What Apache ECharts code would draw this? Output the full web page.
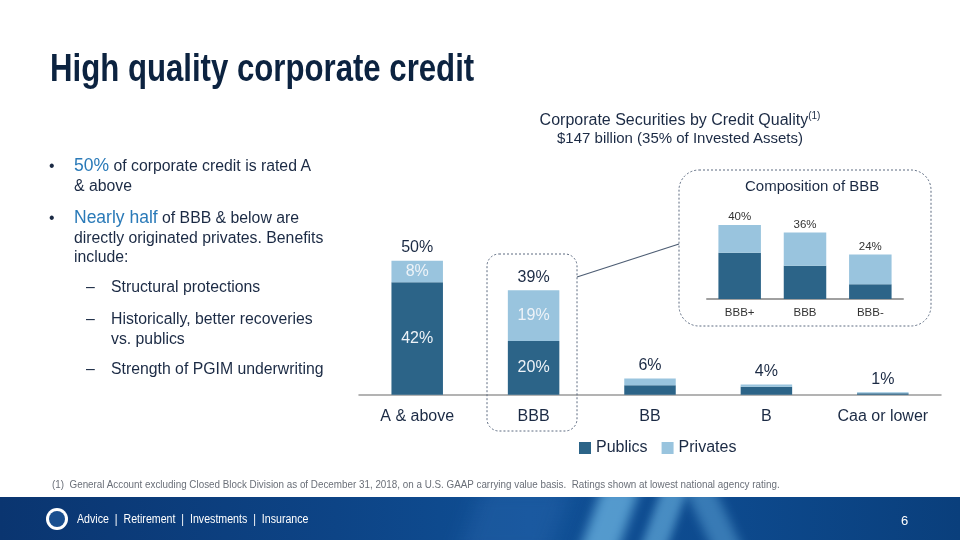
<!DOCTYPE html>
<html>
<head>
<meta charset="utf-8">
<script src="https://cdn.jsdelivr.net/npm/echarts@6/dist/echarts.min.js"></script>
<style>
  html, body { margin:0; padding:0; background:#fff; }
  #wrap { position:relative; width:960px; height:540px; overflow:hidden; font-family:"Liberation Sans", Arial, sans-serif; color:#1b2a44; }
  #chart { position:absolute; left:0; top:0; width:960px; height:540px; z-index:1; }
  .abs { position:absolute; z-index:2; white-space:nowrap; }
  .title { left:50px; top:49px; font-family:"Liberation Sans", sans-serif; font-weight:bold; font-size:38px; line-height:38px; color:#0c2340; transform:scaleX(0.82); transform-origin:0 0; }
  .bul { font-size:15.8px; line-height:19.5px; color:#1b2a44; }
  .hl { color:#2a7ab8; font-size:17.5px; }
  .head { left:480px; width:400px; text-align:center; font-size:16px; line-height:18px; color:#1b2a44; }
  .foot { left:52px; top:478px; font-family:"Liberation Sans", sans-serif; font-size:11px; color:#6a6f78; transform:scaleX(0.895); transform-origin:0 0; }
  #band { position:absolute; left:0; top:497px; width:960px; height:43px; z-index:0; overflow:hidden;
          background:linear-gradient(90deg,#0a3570 0%,#0d4486 35%,#0f4f95 55%,#0d4a8e 75%,#0a3f7c 100%); }
  .streak { position:absolute; top:-10px; height:70px; transform:skewX(-20deg); }
</style>
</head>
<body>
<div id="wrap">
  <div id="band">
    <div class="streak" style="left:590px;width:38px;background:rgba(130,205,245,0.6);filter:blur(6px);"></div>
    <div class="streak" style="left:650px;width:26px;background:rgba(130,205,245,0.5);filter:blur(5px);"></div>
    <div class="streak" style="left:700px;width:30px;background:rgba(120,195,240,0.4);filter:blur(6px);transform:skewX(25deg);"></div>
    <div class="streak" style="left:470px;width:90px;background:rgba(60,120,190,0.25);filter:blur(10px);"></div>
  </div>
  <div id="chart"></div>

  <div class="abs title">High quality corporate credit</div>

  <div class="abs head" style="top:111px;">Corporate Securities by Credit Quality<sup style="font-size:10px;line-height:0;">(1)</sup></div>
  <div class="abs head" style="top:129px;font-size:15px;">$147 billion (35% of Invested Assets)</div>

  <div class="abs bul" style="left:49px;top:156px;">•</div>
  <div class="abs bul" style="left:74px;top:156px;"><span class="hl">50%</span> of corporate credit is rated A<br>&amp; above</div>

  <div class="abs bul" style="left:49px;top:208px;">•</div>
  <div class="abs bul" style="left:74px;top:208px;"><span class="hl">Nearly half</span> of BBB &amp; below are<br>directly originated privates. Benefits<br>include:</div>

  <div class="abs bul" style="left:86px;top:277px;">–</div>
  <div class="abs bul" style="left:111px;top:277px;">Structural protections</div>
  <div class="abs bul" style="left:86px;top:309px;">–</div>
  <div class="abs bul" style="left:111px;top:309px;">Historically, better recoveries<br>vs. publics</div>
  <div class="abs bul" style="left:86px;top:359px;">–</div>
  <div class="abs bul" style="left:111px;top:359px;">Strength of PGIM underwriting</div>

  <div class="abs foot">(1)&nbsp; General Account excluding Closed Block Division as of December 31, 2018, on a U.S. GAAP carrying value basis.&nbsp; Ratings shown at lowest national agency rating.</div>

  <div class="abs" style="left:46px;top:508px;width:22px;height:22px;border-radius:50%;background:#fff;"></div>
  <div class="abs" style="left:49px;top:511px;width:16px;height:16px;border-radius:50%;background:#1a4f8f;"></div>
  <div class="abs" style="left:77px;top:512px;font-size:12.5px;color:#fff;transform:scaleX(0.85);transform-origin:0 0;">Advice&nbsp; |&nbsp; Retirement&nbsp; |&nbsp; Investments&nbsp; |&nbsp; Insurance</div>
  <div class="abs" style="left:901px;top:513px;font-size:13px;color:#fff;">6</div>
</div>

<script>
// Main chart data (% of corporate securities)
const categories = ['A & above', 'BBB', 'BB', 'B', 'Caa or lower'];
const publics = [42, 20, 3.5, 3, 0.5];
const privates = [8, 19, 2.5, 0.8, 0.4];
const totals = [50, 39, 6, 4, 1];

// Inset: composition of BBB
const bbbCategories = ['BBB+', 'BBB', 'BBB-'];
const bbbPublics = [25, 18, 8];
const bbbPrivates = [15, 18, 16];
const bbbTotals = [40, 36, 24];

const DARK = '#2c6488';
const LIGHT = '#99c4de';
const TXT = '#1b2a44';
const FONT = 'Liberation Sans';

const chart = echarts.init(document.getElementById('chart'), null, { renderer: 'canvas' });

const insideLabel = {
  show: true, position: 'inside', fontFamily: FONT, fontSize: 16, color: '#eef3f8',
  formatter: p => (p.value >= 5 ? p.value + '%' : '')
};

chart.setOption({
  backgroundColor: 'transparent',
  animation: false,
  legend: {
    data: ['Publics', 'Privates'],
    left: 574, top: 435,
    itemWidth: 12, itemHeight: 12, itemGap: 14,
    icon: 'rect',
    textStyle: { fontFamily: FONT, fontSize: 16, color: TXT }
  },
  grid: [
    { left: 359, top: 247.3, width: 582, height: 147.4 },
    { left: 707, top: 206.5, width: 196, height: 92.5 }
  ],
  xAxis: [
    {
      type: 'category', gridIndex: 0, data: categories,
      axisTick: { show: false },
      axisLine: { lineStyle: { color: '#9a9a9a', width: 1.5 } },
      axisLabel: { interval: 0, fontFamily: FONT, fontSize: 16, color: TXT, margin: 14 }
    },
    {
      type: 'category', gridIndex: 1, data: bbbCategories,
      axisTick: { show: false },
      axisLine: { lineStyle: { color: '#a0a0a0', width: 2 } },
      axisLabel: { interval: 0, fontFamily: FONT, fontSize: 11.5, color: '#333', margin: 8 }
    }
  ],
  yAxis: [
    { type: 'value', gridIndex: 0, min: 0, max: 55, show: false },
    { type: 'value', gridIndex: 1, min: 0, max: 50, show: false }
  ],
  series: [
    {
      name: 'Publics', type: 'bar', stack: 'main', xAxisIndex: 0, yAxisIndex: 0,
      barWidth: 51.5, data: publics, itemStyle: { color: DARK }, label: insideLabel
    },
    {
      name: 'Privates', type: 'bar', stack: 'main', xAxisIndex: 0, yAxisIndex: 0,
      barWidth: 51.5, data: privates, itemStyle: { color: LIGHT }, label: insideLabel
    },
    {
      name: 'Total', type: 'bar', stack: 'main', xAxisIndex: 0, yAxisIndex: 0,
      barWidth: 51.5, data: totals.map(() => 0), itemStyle: { color: 'transparent' },
      label: {
        show: true, position: 'top', distance: 5, fontFamily: FONT, fontSize: 16, color: TXT,
        formatter: p => totals[p.dataIndex] + '%'
      }
    },
    {
      name: 'Publics', type: 'bar', stack: 'bbb', xAxisIndex: 1, yAxisIndex: 1,
      barWidth: 42.5, data: bbbPublics, itemStyle: { color: DARK }
    },
    {
      name: 'Privates', type: 'bar', stack: 'bbb', xAxisIndex: 1, yAxisIndex: 1,
      barWidth: 42.5, data: bbbPrivates, itemStyle: { color: LIGHT }
    },
    {
      name: 'BBB Total', type: 'bar', stack: 'bbb', xAxisIndex: 1, yAxisIndex: 1,
      barWidth: 42.5, data: bbbTotals.map(() => 0), itemStyle: { color: 'transparent' },
      label: {
        show: true, position: 'top', distance: 2, fontFamily: FONT, fontSize: 11.5, color: '#333',
        formatter: p => bbbTotals[p.dataIndex] + '%'
      }
    }
  ],
  graphic: [
    {
      type: 'rect', z: 10, silent: true,
      shape: { x: 487, y: 254, width: 90, height: 177, r: 12 },
      style: { fill: 'none', stroke: '#5d6b80', lineWidth: 1, lineDash: [2, 2] }
    },
    {
      type: 'rect', z: 10, silent: true,
      shape: { x: 679, y: 170, width: 252, height: 156, r: 20 },
      style: { fill: 'none', stroke: '#5d6b80', lineWidth: 1, lineDash: [2, 2] }
    },
    {
      type: 'line', z: 10, silent: true,
      shape: { x1: 577, y1: 277, x2: 679, y2: 244 },
      style: { stroke: '#4d5d73', lineWidth: 1.2 }
    },
    {
      type: 'text', z: 10, silent: true, left: 745, top: 179,
      style: { text: 'Composition of BBB', font: '15px "Liberation Sans"', fill: TXT }
    }
  ]
});
</script>
</body>
</html>
